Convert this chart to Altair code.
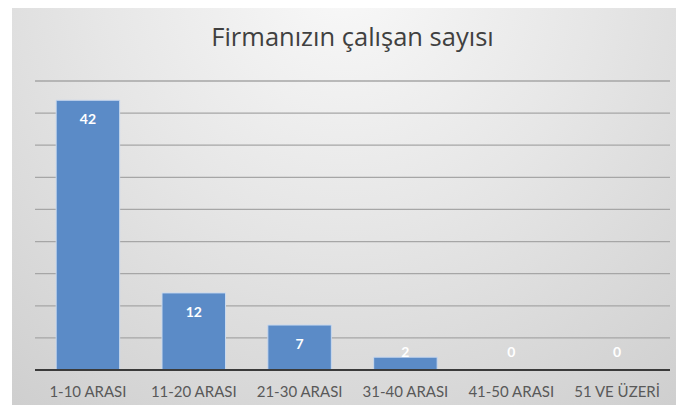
import altair as alt
import pandas as pd

# ---- data ----
categories = ["1-10 ARASI", "11-20  ARASI", "21-30  ARASI", "31-40 ARASI", "41-50  ARASI", "51  VE ÜZERİ"]
counts = [42, 12, 7, 2, 0, 0]
grid_ticks = [5, 10, 15, 20, 25, 30, 35, 40, 45]
baseline_value = [0]
y_domain = [0, 45]
title_text = "Firmanızın çalışan sayısı"

# ---- layout ----
W, H = 635, 289
PAD = {"left": 27, "top": 73, "right": 6, "bottom": 35}

df = pd.DataFrame({"cat": categories, "value": counts})
grid_df = pd.DataFrame({"tick": grid_ticks})
base_df = pd.DataFrame({"v": baseline_value})
bg_df = pd.DataFrame({"k": [0]})

y_scale = alt.Scale(domain=y_domain, nice=False, zero=True)
x_enc = alt.X(
    "cat:N",
    sort=categories,
    scale=alt.Scale(paddingInner=0.4, paddingOuter=0.2),
    axis=alt.Axis(
        title=None, domain=False, ticks=False, grid=False, labelAngle=0,
        labelFont="Lato", labelFontSize=15, labelColor="#595959",
        labelPadding=14, zindex=1,
    ),
)

bg = alt.Chart(bg_df).mark_rect(
    color=alt.Gradient(
        gradient="radial",
        stops=[
            alt.GradientStop(offset=0, color="#f9f9f9"),
            alt.GradientStop(offset=0.45, color="#e6e6e6"),
            alt.GradientStop(offset=1, color="#cdcdcd"),
        ],
        x1=0.5, y1=0.15, r1=0, x2=0.5, y2=0.15, r2=0.85,
    )
).encode(
    x=alt.value(-23), x2=alt.value(W + 6), y=alt.value(-PAD["top"]), y2=alt.value(H + PAD["bottom"])
)

grid = alt.Chart(grid_df).mark_rule(color="#a6a6a6", strokeWidth=1.3).encode(
    y=alt.Y("tick:Q", scale=y_scale, axis=None)
)

bars = alt.Chart(df).mark_bar(color="#5b8bc7", stroke="#c9d9ee", strokeWidth=1).encode(
    x=x_enc,
    y=alt.Y("value:Q", scale=y_scale, axis=None),
)

baseline = alt.Chart(base_df).mark_rule(color="#3a3a3a", strokeWidth=2).encode(
    y=alt.Y("v:Q", scale=y_scale, axis=None)
)

labels = alt.Chart(df).transform_calculate(
    label_y="max(datum.value, 5.76)"
).mark_text(
    font="Lato", fontWeight="bold", fontSize=14, color="white", dy=20, baseline="middle"
).encode(
    x=x_enc,
    y=alt.Y("label_y:Q", scale=y_scale, axis=None),
    text="value:Q",
)

chart = alt.layer(bg, grid, bars, baseline, labels).properties(
    width=W,
    height=H,
    padding=PAD,
    autosize=alt.AutoSizeParams(type="none"),
    title=alt.TitleParams(
        title_text, font="Open Sans", fontSize=25.5, fontWeight="normal", color="#404040",
        anchor="middle", baseline="alphabetic", offset=-63, zindex=1,
    ),
).configure_view(stroke=None).configure(background="white")

chart.save("out.html", embed_options={"renderer": "svg", "actions": False})
